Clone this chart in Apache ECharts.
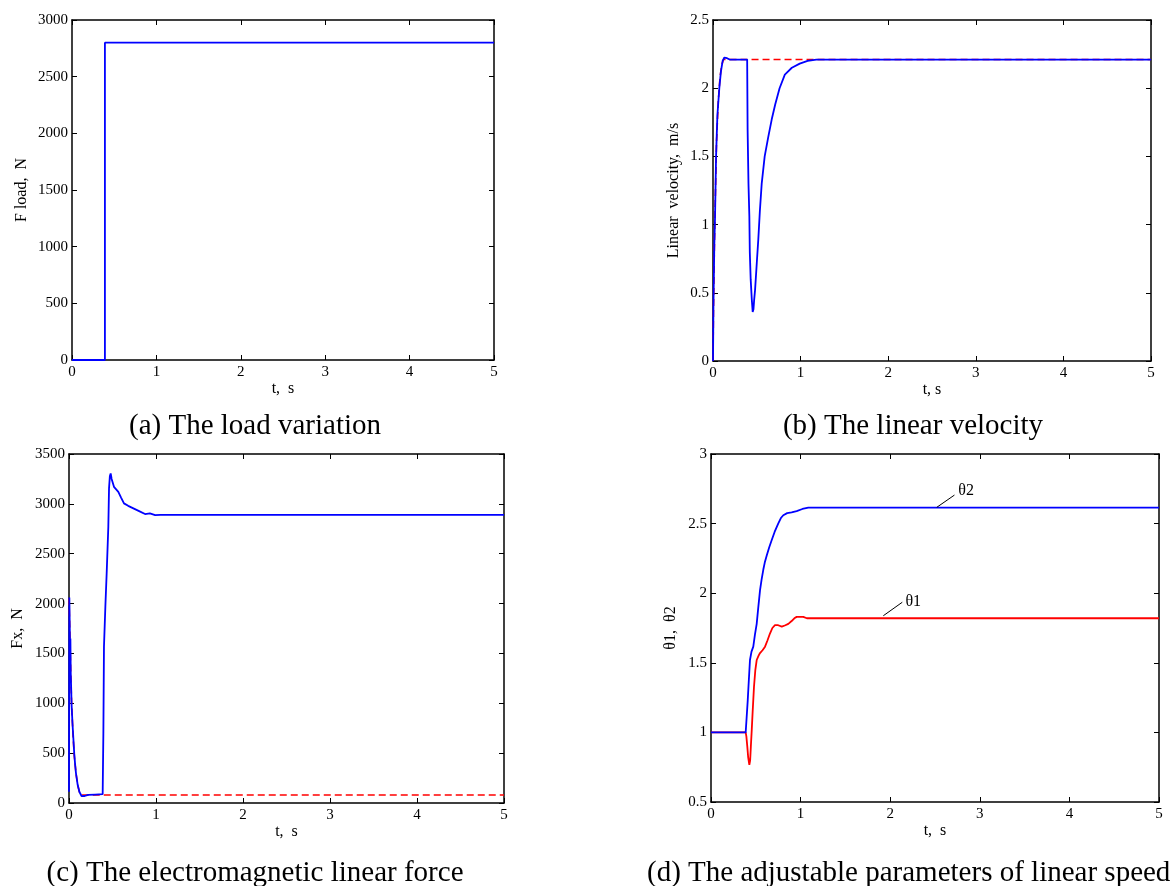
<!DOCTYPE html>
<html><head><meta charset="utf-8">
<script src="https://cdn.jsdelivr.net/npm/echarts@6/dist/echarts.min.js"></script>
<style>html,body{margin:0;padding:0;background:#fff;}#c{width:1173px;height:886px;}</style>
</head><body><div id="c"></div>
<script>
// ---------- data (t in s) ----------
const loadData = [[0,0],[0.39,0],[0.39,2800],[5,2800]];

const velRef = [[0,0],[0.005,0.35],[0.015,0.8],[0.025,1.15],[0.04,1.6],[0.06,1.9],[0.08,2.08],[0.1,2.17],[0.12,2.21],[5,2.21]];
const velAct = [[0,0],[0.005,0.4],[0.015,0.85],[0.023,1.05],[0.035,1.5],[0.05,1.8],[0.072,2.0],[0.09,2.12],[0.11,2.2],[0.13,2.225],[0.16,2.22],[0.19,2.21],[0.39,2.21],[0.395,1.7],[0.405,1.3],[0.415,1.06],[0.42,0.8],[0.43,0.6],[0.443,0.45],[0.453,0.36],[0.462,0.38],[0.47,0.45],[0.48,0.52],[0.5,0.72],[0.517,0.89],[0.535,1.1],[0.556,1.3],[0.59,1.5],[0.63,1.64],[0.67,1.77],[0.71,1.88],[0.76,2.0],[0.82,2.1],[0.9,2.15],[0.99,2.18],[1.08,2.2],[1.18,2.21],[5,2.21]];

const forceRef = [[0,2050],[0.01,1700],[0.02,1300],[0.03,1000],[0.045,700],[0.06,480],[0.08,300],[0.1,180],[0.12,110],[0.14,80],[5,80]];
const forceAct = [[0,113],[0.004,2060],[0.008,1800],[0.012,1550],[0.016,1650],[0.02,1300],[0.025,1150],[0.03,980],[0.04,800],[0.05,650],[0.06,500],[0.07,390],[0.08,300],[0.1,180],[0.12,110],[0.146,68],[0.18,70],[0.22,82],[0.3,85],[0.387,88],[0.395,700],[0.402,1570],[0.418,1970],[0.433,2304],[0.452,2771],[0.46,3155],[0.47,3280],[0.479,3305],[0.49,3250],[0.517,3171],[0.567,3121],[0.6,3060],[0.632,3005],[0.68,2980],[0.74,2955],[0.8,2930],[0.874,2898],[0.93,2905],[0.99,2888],[1.05,2890],[5,2890]];

const theta1 = [[0,1],[0.387,1],[0.395,0.97],[0.405,0.9],[0.415,0.82],[0.428,0.766],[0.437,0.8],[0.445,0.9],[0.455,1.02],[0.465,1.15],[0.48,1.33],[0.495,1.45],[0.51,1.52],[0.53,1.55],[0.547,1.57],[0.575,1.59],[0.603,1.616],[0.63,1.66],[0.658,1.71],[0.685,1.75],[0.714,1.77],[0.75,1.77],[0.79,1.76],[0.83,1.77],[0.863,1.78],[0.9,1.8],[0.93,1.82],[0.956,1.83],[1.03,1.83],[1.07,1.82],[5,1.82]];
const theta2 = [[0,1],[0.387,1],[0.395,1.08],[0.41,1.23],[0.42,1.35],[0.435,1.52],[0.452,1.58],[0.472,1.616],[0.49,1.7],[0.51,1.78],[0.528,1.9],[0.547,2.02],[0.565,2.1],[0.584,2.17],[0.6,2.22],[0.622,2.27],[0.65,2.33],[0.677,2.38],[0.71,2.44],[0.75,2.5],[0.78,2.54],[0.807,2.56],[0.85,2.575],[0.9,2.58],[0.956,2.59],[1.02,2.605],[1.086,2.615],[5,2.615]];

const theta1Leader = [[1.923,1.838],[2.135,1.935]];
const theta2Leader = [[2.52,2.617],[2.717,2.705]];
const theta1LabelAt = [2.17,1.94];
const theta2LabelAt = [2.76,2.733];

const xRange = {min:0, max:5, interval:1};
const yRanges = [
  {min:0, max:3000, interval:500},
  {min:0, max:2.5, interval:0.5},
  {min:0, max:3500, interval:500},
  {min:0.5, max:3, interval:0.5}
];
const yNames = ['F load,  N', 'Linear  velocity,  m/s', 'Fx,  N', '\u03b81,  \u03b82'];
const xNames = ['t,  s', 't, s', 't,  s', 't,  s'];
const captions = ['(a) The load variation', '(b) The linear velocity', '(c) The electromagnetic linear force', '(d) The adjustable parameters of linear speed'];

// ---------- layout ----------
const grids = [
  {left:72, top:20, width:422, height:340},
  {left:713, top:20, width:438, height:341},
  {left:69, top:454, width:435, height:349},
  {left:711, top:454, width:448, height:348}
];
const yNameGaps = [42, 31, 43, 32];
const FONT = '"Liberation Serif", "Times New Roman", serif';
const BLUE = '#0000ff', RED = '#ff0000';

const axisLine = {show:true, onZero:false, lineStyle:{color:'#000', width:1.5}};
const tick = {show:true, inside:true, length:5, lineStyle:{color:'#000', width:1}};
const plain = v => String(v);

const xAxis = [], yAxis = [];
for (let i = 0; i < 4; i++) {
  xAxis.push({type:'value', gridIndex:i, position:'bottom', ...xRange,
    name:xNames[i], nameLocation:'middle', nameGap:21,
    nameTextStyle:{fontFamily:FONT, fontSize:16, color:'#000'},
    axisLine, axisTick:tick, splitLine:{show:false},
    axisLabel:{show:true, margin:5, fontFamily:FONT, fontSize:15, color:'#000', formatter:plain, showMinLabel:true, showMaxLabel:true}});
  yAxis.push({type:'value', gridIndex:i, position:'left', ...yRanges[i],
    name:yNames[i], nameLocation:'middle', nameGap:yNameGaps[i], nameRotate:90,
    nameTextStyle:{fontFamily:FONT, fontSize:16, color:'#000'},
    axisLine, axisTick:tick, splitLine:{show:false},
    axisLabel:{show:true, margin:4, fontFamily:FONT, fontSize:15, color:'#000', formatter:plain, showMinLabel:true, showMaxLabel:true}});
}
for (let i = 0; i < 4; i++) {
  xAxis.push({type:'value', gridIndex:i, position:'top', ...xRange,
    axisLine, axisTick:tick, axisLabel:{show:false}, splitLine:{show:false}});
  yAxis.push({type:'value', gridIndex:i, position:'right', ...yRanges[i],
    axisLine, axisTick:tick, axisLabel:{show:false}, splitLine:{show:false}});
}

function line(idx, data, color, dashed, extra) {
  return Object.assign({type:'line', xAxisIndex:idx, yAxisIndex:idx, data,
    showSymbol:false, symbol:'none', animation:false, silent:true,
    lineStyle:{color, width:dashed ? 1.6 : 1.8, type: dashed ? [7,4] : 'solid'},
    itemStyle:{color}}, extra || {});
}

function annot(leader, labelAt, text) {
  return {
    markLine:{silent:true, symbol:['none','none'], animation:false,
      lineStyle:{color:'#000', width:1, type:'solid'}, label:{show:false},
      emphasis:{disabled:true},
      data:[[{coord:leader[0]},{coord:leader[1]}]]},
    markPoint:{silent:true, animation:false, symbol:'circle', symbolSize:0,
      itemStyle:{color:'rgba(0,0,0,0)'},
      label:{show:true, position:'right', distance:0, formatter:text, color:'#000', fontFamily:FONT, fontSize:16},
      data:[{coord:labelAt}]}
  };
}

const series = [
  line(0, loadData, BLUE, false),
  line(1, velRef, RED, true),
  line(1, velAct, BLUE, false),
  line(2, forceRef, RED, true),
  line(2, forceAct, BLUE, false),
  line(3, theta1, RED, false, annot(theta1Leader, theta1LabelAt, '\u03b81')),
  line(3, theta2, BLUE, false, annot(theta2Leader, theta2LabelAt, '\u03b82'))
];

const captionPos = [
  {x:255, y:426, align:'center'},
  {x:913, y:426, align:'center'},
  {x:255, y:873, align:'center'},
  {x:647, y:873, align:'left'}
];
const graphic = captions.map((t, i) => ({
  type:'text', x:captionPos[i].x, y:captionPos[i].y, silent:true,
  style:{text:t, fill:'#000', font:'29px ' + FONT,
    align:captionPos[i].align, verticalAlign:'middle',
    textAlign:captionPos[i].align, textVerticalAlign:'middle'}
}));

const chart = echarts.init(document.getElementById('c'), null, {renderer:'canvas'});
chart.setOption({
  animation:false,
  backgroundColor:'#fff',
  grid:grids,
  xAxis, yAxis, series, graphic
});
</script></body></html>
